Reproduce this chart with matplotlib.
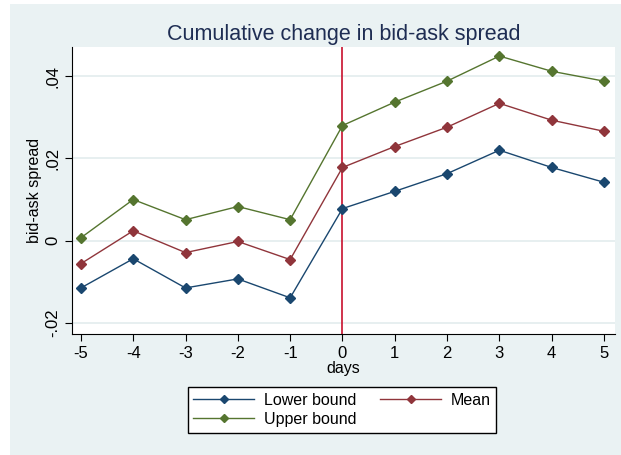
import matplotlib
matplotlib.use("Agg")
import matplotlib.pyplot as plt
from matplotlib.patches import Rectangle

days = [-5, -4, -3, -2, -1, 0, 1, 2, 3, 4, 5]
lower = [-0.0115, -0.0044, -0.0115, -0.0093, -0.0139, 0.0078, 0.0120, 0.0163, 0.0220, 0.0178, 0.0142]
mean = [-0.0056, 0.0024, -0.0029, -0.0002, -0.0046, 0.0178, 0.0229, 0.0276, 0.0334, 0.0293, 0.0266]
upper = [0.0007, 0.0100, 0.0051, 0.0083, 0.0051, 0.0280, 0.0337, 0.0388, 0.0449, 0.0412, 0.0388]
yticks = [-0.02, 0.0, 0.02, 0.04]
ytick_labels = ["-.02", "0", ".02", ".04"]

plt.rcParams['font.family'] = ['Liberation Sans', 'DejaVu Sans']
bg = '#eaf2f3'
fig = plt.figure(figsize=(6.21, 4.55), dpi=100, facecolor='white')
fig.patches.append(Rectangle((10/621, 0), 1 - 10/621, 1 - 4/455, transform=fig.transFigure,
                             facecolor=bg, edgecolor='none', zorder=-10))
W, H = 621, 455
ax = fig.add_axes([72/W, 1 - 334/H, (615-72)/W, (334-47)/H])
ax.set_facecolor('white')

for yv in yticks:
    ax.axhline(yv, color='#e3ecee', lw=1.2, zorder=0)
ax.axvline(0, color='#c8102e', lw=1.2, zorder=1)

l1, = ax.plot(days, lower, color='#1a476f', marker='D', ms=5, lw=1, label='Lower bound', zorder=3)
l2, = ax.plot(days, mean, color='#90353b', marker='D', ms=5, lw=1, label='Mean', zorder=3)
l3, = ax.plot(days, upper, color='#55752f', marker='D', ms=5, lw=1, label='Upper bound', zorder=3)

ax.set_xlim(-5.17, 5.21)
ax.set_ylim(-0.0227, 0.0471)
ax.set_xticks(days)
ax.set_xticklabels([str(d) for d in days], fontsize=12)
ax.set_yticks(yticks)
ax.set_yticklabels(ytick_labels, fontsize=12, rotation=90, va='center')
ax.tick_params(direction='out', length=5, color='black', labelcolor='black')

for s in ['top', 'right']:
    ax.spines[s].set_visible(False)
ax.spines['left'].set_color('black')
ax.spines['bottom'].set_color('black')

ax.set_xlabel('days', fontsize=11.5, labelpad=0)
ax.set_ylabel('bid-ask spread', fontsize=11.5, labelpad=2)
ax.set_title('Cumulative change in bid-ask spread', fontsize=15.5, color='#1e2d53', pad=5)

leg = fig.legend([l1, l3, l2], ['Lower bound', 'Upper bound', 'Mean'],
                 loc='center', bbox_to_anchor=(342/W, 1 - 410/H), ncol=2, fontsize=11.5,
                 frameon=True, fancybox=False, edgecolor='black', facecolor='white',
                 handlelength=3.8, handletextpad=0.6, columnspacing=1.5, borderpad=0.35,
                 labelspacing=0.25, markerscale=0.8, framealpha=1)
leg.get_frame().set_linewidth(1)

fig.savefig('out.png', dpi=100, facecolor='white')
